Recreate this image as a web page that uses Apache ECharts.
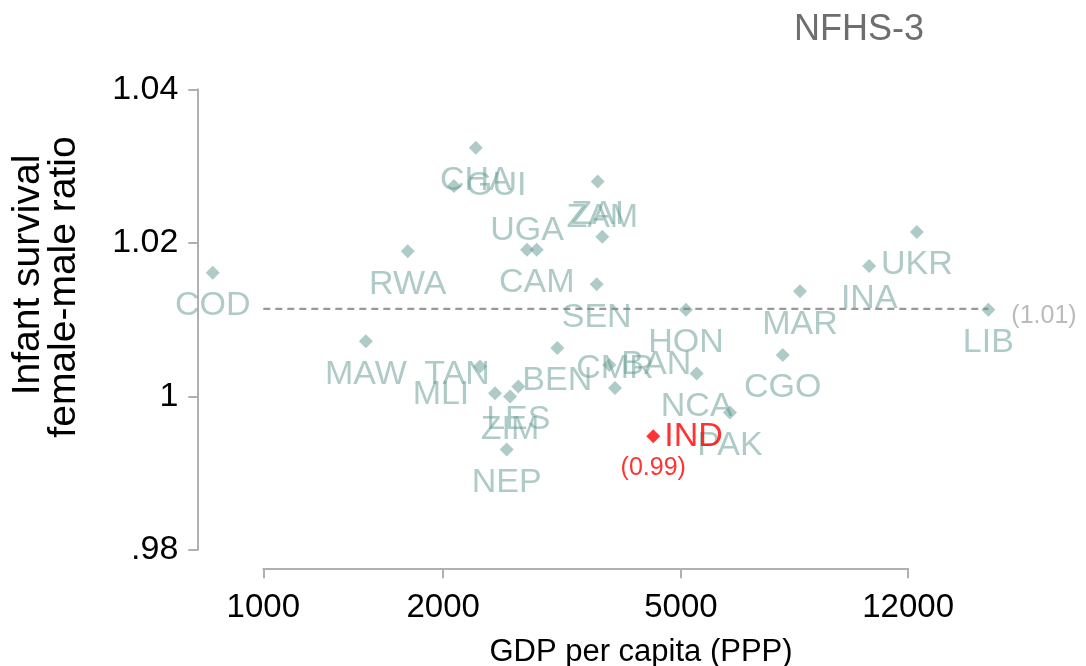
<!DOCTYPE html>
<html>
<head>
<meta charset="utf-8">
<script src="https://cdn.jsdelivr.net/npm/echarts@6/dist/echarts.min.js"></script>
<style>
  html, body { margin: 0; padding: 0; background: #fff; }
  #main { width: 1086px; height: 666px; }
</style>
</head>
<body>
<div id="main"></div>
<script>
// survey countries: GDP per capita (PPP) and infant survival female-male ratio
var countries = ['COD', 'CHA', 'GUI', 'RWA', 'ZAI', 'ZAM', 'UGA', 'CAM', 'SEN', 'HON', 'MAW', 'BEN', 'TAN',
                 'MLI', 'ZIM', 'LES', 'NEP', 'BAN', 'CMR', 'NCA', 'CGO', 'PAK', 'MAR', 'INA', 'UKR', 'LIB'];
var gdp = [823, 2268, 2085, 1745, 3628, 3693, 2763, 2868, 3614, 5098, 1485, 3105, 2305,
           2442, 2588, 2672, 2555, 3794, 3878, 5313, 7403, 6040, 7911, 10330, 12410, 16350];
var ratio = [1.0161, 1.0324, 1.0274, 1.0189, 1.0280, 1.0208, 1.0191, 1.0191, 1.0146, 1.0113, 1.0072, 1.0063, 1.0039,
             1.0004, 1.0000, 1.0013, 0.9931, 1.0041, 1.0011, 1.0030, 1.0054, 0.9979, 1.0137, 1.0170, 1.0214, 1.0113];

var indiaName = 'IND';
var indiaGdp = 4494;
var indiaRatio = 0.9948;

// mean ratio line (dashed) and its x span
var meanRatio = 1.0114;
var meanSpan = [1000, 16350];

var xTicks = [1000, 2000, 5000, 12000];
var yMin = 0.98, yMax = 1.04, yStep = 0.02;

// label placement (stata-like), default is below the marker
var labelPlace = {
  GUI: 'right', BAN: 'right',
  ZAM: 'above', UGA: 'above', CMR: 'above',
  TAN: [-23, 8], MLI: [-54, 1]
};

var FONT = '"Liberation Sans", Arial, sans-serif';
var teal = 'rgba(100,155,147,0.65)';

function lg(v) { return Math.log10(v); }

function labelFor(code) {
  var p = labelPlace[code];
  if (p === 'right') return { position: 'right', distance: 5 };
  if (p === 'above') return { position: 'inside', offset: [0, -19] };
  if (Array.isArray(p)) return { position: 'inside', offset: p };
  return { position: 'inside', offset: [0, 33] };
}

var pts = countries.map(function (c, i) {
  return { name: c, value: [lg(gdp[i]), ratio[i]], label: labelFor(c) };
});

var chart = echarts.init(document.getElementById('main'));

chart.setOption({
  animation: false,
  backgroundColor: '#fff',
  textStyle: { fontFamily: FONT },
  grid: { left: 263.3, top: 89.3, width: 644.8, height: 460.7 },
  xAxis: {
    type: 'value',
    min: lg(xTicks[0]),
    max: lg(xTicks[xTicks.length - 1]),
    offset: 18.3,
    axisLine: { lineStyle: { color: '#b0b0b0', width: 2 } },
    axisTick: { length: 10, lineStyle: { color: '#b0b0b0', width: 2 }, customValues: xTicks.map(lg) },
    axisLabel: {
      customValues: xTicks.map(lg),
      margin: 23,
      fontSize: 33,
      color: '#000',
      fontFamily: FONT,
      formatter: function (v) { return String(Math.round(Math.pow(10, v))); }
    },
    splitLine: { show: false }
  },
  yAxis: {
    type: 'value',
    min: yMin,
    max: yMax,
    interval: yStep,
    offset: 66,
    axisLine: { show: true, lineStyle: { color: '#b0b0b0', width: 2 } },
    axisTick: { show: true, length: 9, lineStyle: { color: '#b0b0b0', width: 2 } },
    axisLabel: {
      margin: 19,
      fontSize: 34,
      color: '#000',
      fontFamily: FONT,
      formatter: function (v) {
        return String(Math.round(v * 100) / 100).replace(/^0\./, '.');
      }
    },
    splitLine: { show: false }
  },
  series: [
    {
      // dashed mean line, drawn through the axis scales
      type: 'custom',
      data: [[lg(meanSpan[0]), meanRatio, lg(meanSpan[1])]],
      encode: { x: [0, 2], y: 1 },
      clip: false,
      renderItem: function (params, api) {
        var a = api.coord([api.value(0), api.value(1)]);
        var b = api.coord([api.value(2), api.value(1)]);
        return {
          type: 'line',
          shape: { x1: a[0], y1: a[1], x2: b[0], y2: b[1] },
          style: { stroke: '#999999', lineWidth: 2.2, lineDash: [7, 5] }
        };
      },
      z: 1
    },
    {
      type: 'scatter',
      data: [[lg(meanSpan[1]), meanRatio]],
      symbolSize: 0,
      clip: false,
      label: {
        show: true,
        position: 'right',
        distance: 23,
        offset: [0, 7],
        fontSize: 25,
        color: '#aaaaaa',
        fontFamily: FONT,
        formatter: function (p) { return '(' + p.value[1].toFixed(2) + ')'; }
      }
    },
    {
      type: 'scatter',
      data: pts,
      symbol: 'diamond',
      symbolSize: 14,
      clip: false,
      itemStyle: { color: teal },
      label: {
        show: true,
        formatter: '{b}',
        fontSize: 34,
        color: teal,
        fontFamily: FONT
      },
      z: 3
    },
    {
      type: 'scatter',
      data: [{ name: indiaName, value: [lg(indiaGdp), indiaRatio] }],
      symbol: 'diamond',
      symbolSize: 14,
      clip: false,
      itemStyle: { color: '#ff0000' },
      label: {
        show: true,
        position: 'right',
        distance: 4,
        formatter: '{b}',
        fontSize: 34,
        color: '#ff0000',
        fontFamily: FONT
      },
      z: 4
    },
    {
      type: 'scatter',
      data: [[lg(indiaGdp), indiaRatio]],
      symbolSize: 0,
      clip: false,
      label: {
        show: true,
        position: 'inside',
        offset: [0, 32],
        fontSize: 25,
        color: '#ff0000',
        fontFamily: FONT,
        formatter: function (p) { return '(' + p.value[1].toFixed(2) + ')'; }
      },
      z: 4
    }
  ],
  graphic: [
    {
      type: 'text', x: 859, y: 30,
      style: { text: 'NFHS-3', fontSize: 36, fontFamily: FONT, fill: '#6e6e6e', textAlign: 'center', textVerticalAlign: 'middle' }
    },
    {
      type: 'text', x: 28, y: 275, rotation: Math.PI / 2,
      style: { text: 'Infant survival', fontSize: 39, fontFamily: FONT, fill: '#000', textAlign: 'center', textVerticalAlign: 'middle' }
    },
    {
      type: 'text', x: 64, y: 287, rotation: Math.PI / 2,
      style: { text: 'female-male ratio', fontSize: 39, fontFamily: FONT, fill: '#000', textAlign: 'center', textVerticalAlign: 'middle' }
    },
    {
      type: 'text', x: 641, y: 652,
      style: { text: 'GDP per capita (PPP)', fontSize: 31, fontFamily: FONT, fill: '#000', textAlign: 'center', textVerticalAlign: 'middle' }
    }
  ]
});
</script>
</body>
</html>
